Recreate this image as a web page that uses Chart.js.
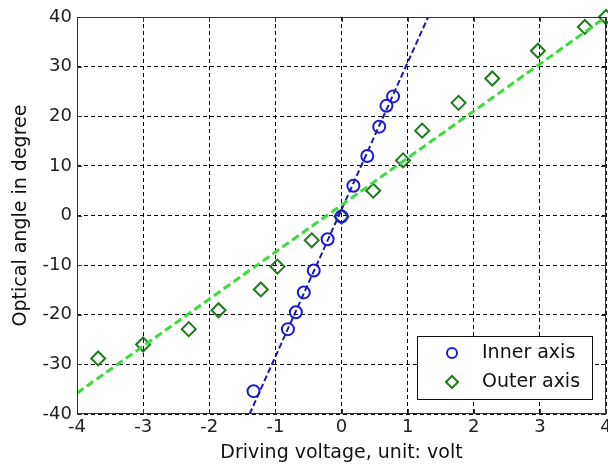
<!DOCTYPE html>
<html>
<head>
<meta charset="utf-8">
<script src="https://cdn.jsdelivr.net/npm/chart.js@4/dist/chart.umd.min.js"></script>
<style>
  body { margin: 0; background: #fff; }
</style>
</head>
<body>
<canvas id="chart_one" width="608" height="466"></canvas>
<script>

var innerVolt  = [-1.33, -0.81, -0.69, -0.57, -0.42, -0.21, 0.0, 0.18, 0.39, 0.57, 0.68, 0.78];
var innerAngle = [-35.4, -22.9, -19.5, -15.5, -11.1, -4.8, -0.2, 6.0, 12.0, 17.9, 22.1, 24.0];

var outerVolt  = [-3.68, -3.0, -2.31, -1.86, -1.22, -0.97, -0.45, 0.0, 0.48, 0.93, 1.22, 1.77, 2.28, 2.97, 3.68, 4.0];
var outerAngle = [-28.8, -26.0, -22.9, -19.1, -14.9, -10.3, -5.0, -0.2, 5.0, 11.1, 17.1, 22.7, 27.6, 33.2, 38.0, 40.0];

// fitted lines, end points where they leave the axes
var innerFitVolt  = [-1.39, 1.31];
var innerFitAngle = [-40, 40];
var outerFitVolt  = [-4, 4];
var outerFitAngle = [-35.8, 40];

var xTicks = [-4, -3, -2, -1, 0, 1, 2, 3, 4];
var yTicks = [-40, -30, -20, -10, 0, 10, 20, 30, 40];

var labels = ['Inner axis', 'Outer axis'];

function pairs(xs, ys) {
    return xs.map(function (x, i) { return {x: x, y: ys[i]}; });
}

// box, inward ticks and the boxed legend, matlab style
var matlabAxes = {
    id: 'matlabAxes',
    afterDraw: function (chart) {
        var ctx = chart.ctx;
        var a = chart.chartArea;
        var sx = chart.scales.x, sy = chart.scales.y;
        ctx.save();
        ctx.strokeStyle = '#333';
        ctx.lineWidth = 1;
        ctx.setLineDash([]);
        ctx.strokeRect(a.left + 0.5, a.top + 0.5, a.right - a.left - 1, a.bottom - a.top - 1);
        ctx.beginPath();
        xTicks.forEach(function (v) {
            var px = Math.round(sx.getPixelForValue(v)) + 0.5;
            ctx.moveTo(px, a.bottom); ctx.lineTo(px, a.bottom - 5);
            ctx.moveTo(px, a.top); ctx.lineTo(px, a.top + 5);
        });
        yTicks.forEach(function (v) {
            var py = Math.round(sy.getPixelForValue(v)) + 0.5;
            ctx.moveTo(a.left, py); ctx.lineTo(a.left + 5, py);
            ctx.moveTo(a.right, py); ctx.lineTo(a.right - 5, py);
        });
        ctx.stroke();

        // legend
        var w = 175, h = 63;
        var bx = a.right - 14 - w, by = a.bottom - 15 - h;
        ctx.fillStyle = '#fff';
        ctx.fillRect(bx, by, w, h);
        ctx.strokeStyle = '#111';
        ctx.strokeRect(bx + 0.5, by + 0.5, w, h);
        ctx.font = '19px "DejaVu Sans"';
        ctx.textBaseline = 'middle';
        ctx.textAlign = 'left';
        var sets = [chart.data.datasets[0], chart.data.datasets[1]];
        sets.forEach(function (ds, i) {
            var cy = by + 17 + i * 29;
            ctx.strokeStyle = ds.borderColor;
            ctx.fillStyle = 'rgba(0,0,0,0)';
            ctx.lineWidth = 2;
            Chart.helpers.drawPoint(ctx, {pointStyle: ds.pointStyle, radius: i == 0 ? 5 : 6, rotation: 0, borderWidth: 2}, bx + 35, cy);
            ctx.fillStyle = '#111';
            ctx.fillText(ds.label, bx + 65, cy);
        });
        ctx.restore();
    }
};

var ctx = document.getElementById('chart_one').getContext('2d');
var chart = new Chart(ctx, {
    type: 'scatter',
    data: {
        datasets: [{
            label: labels[0],
            data: pairs(innerVolt, innerAngle),
            showLine: false,
            pointStyle: 'circle',
            pointRadius: 6,
            pointHoverRadius: 6,
            borderColor: '#1a1ad6',
            backgroundColor: 'rgba(0,0,0,0)',
            borderWidth: 2,
            clip: false,
            order: 3
        }, {
            label: labels[1],
            data: pairs(outerVolt, outerAngle),
            showLine: false,
            pointStyle: 'rectRot',
            pointRadius: 7,
            pointHoverRadius: 7,
            borderColor: '#1d7a1d',
            backgroundColor: 'rgba(0,0,0,0)',
            borderWidth: 2,
            clip: false,
            order: 4
        }, {
            label: 'inner fit',
            data: pairs(innerFitVolt, innerFitAngle),
            showLine: true,
            pointRadius: 0,
            borderColor: '#1a1ab4',
            borderWidth: 2,
            borderDash: [6, 3],
            order: 2
        }, {
            label: 'outer fit',
            data: pairs(outerFitVolt, outerFitAngle),
            showLine: true,
            pointRadius: 0,
            borderColor: '#3ddc3d',
            borderWidth: 3,
            borderDash: [8, 4],
            order: 1
        }]
    },
    options: {
        responsive: false,
        animation: false,
        layout: { autoPadding: false, padding: { top: 17, right: 2, left: 0, bottom: 0 } },
        plugins: {
            legend: { display: false },
            tooltip: { enabled: false }
        },
        scales: {
            x: {
                type: 'linear',
                min: -4, max: 4,
                afterFit: function (s) { s.height = 52; s.paddingRight = 0; s.paddingLeft = 0; },
                ticks: {
                    stepSize: 1,
                    padding: 3,
                    color: '#222',
                    font: { family: 'DejaVu Sans', size: 18 },
                    maxRotation: 0
                },
                grid: { color: '#000', lineWidth: 1, drawTicks: false },
                border: { display: false, dash: [4, 3] },
                title: {
                    display: true,
                    text: 'Driving voltage, unit: volt',
                    color: '#111',
                    font: { family: 'DejaVu Sans', size: 19 },
                    padding: { top: 0, bottom: 2 }
                }
            },
            y: {
                type: 'linear',
                min: -40, max: 40,
                afterFit: function (s) { s.width = 77; },
                ticks: {
                    stepSize: 10,
                    padding: 5,
                    color: '#222',
                    font: { family: 'DejaVu Sans', size: 18 }
                },
                grid: { color: '#000', lineWidth: 1, drawTicks: false },
                border: { display: false, dash: [4, 3] },
                title: {
                    display: true,
                    text: 'Optical angle in degree',
                    color: '#111',
                    font: { family: 'DejaVu Sans', size: 19 },
                    padding: { top: 10, bottom: 0 }
                }
            }
        }
    },
    plugins: [matlabAxes]
});

</script>
</body>
</html>
